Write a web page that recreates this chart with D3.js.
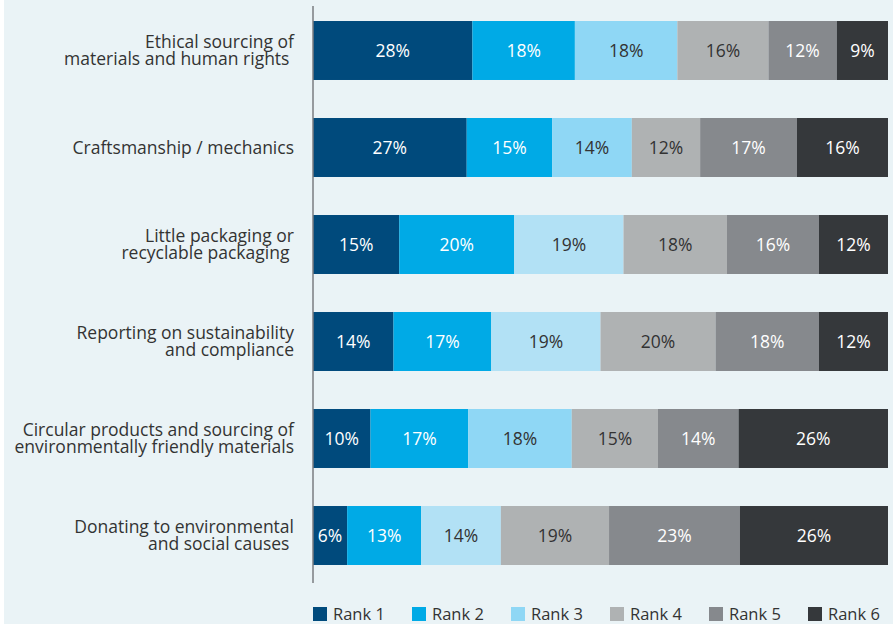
<!DOCTYPE html>
<html>
<head>
<meta charset="utf-8">
<script src="https://cdn.jsdelivr.net/npm/d3@7"></script>
<style>
  html, body { margin: 0; padding: 0; background: #ffffff; }
  svg { display: block; font-family: "Open Sans", "Noto Sans", sans-serif; }
</style>
</head>
<body>
<svg id="chart" width="893" height="624"></svg>
<script>
// Share of respondents ranking each factor 1st..6th
const categories = [
  ["Ethical sourcing of", "materials and human rights\u00a0"],
  ["Craftsmanship / mechanics"],
  ["Little packaging or", "recyclable packaging\u00a0"],
  ["Reporting on sustainability", "and compliance"],
  ["Circular products and sourcing of", "environmentally friendly materials"],
  ["Donating to environmental", "and social causes\u00a0"]
];
const ranks = ["Rank 1", "Rank 2", "Rank 3", "Rank 4", "Rank 5", "Rank 6"];
const rank1 = [28, 27, 15, 14, 10, 6];
const rank2 = [18, 15, 20, 17, 17, 13];
const rank3 = [18, 14, 19, 19, 18, 14];
const rank4 = [16, 12, 18, 20, 15, 19];
const rank5 = [12, 17, 16, 18, 14, 23];
const rank6 = [9, 16, 12, 12, 26, 26];

const colors = ["#004a7c", "#00aae6", "#8fd7f5", "#afb2b3", "#86898d", "#35383b"];
const rank3Pale = "#b2e1f5";
const paleRank3Rows = new Set([2, 3, 5]);
const labelColors = ["#ffffff", "#ffffff", "#333333", "#333333", "#ffffff", "#ffffff"];

const seriesValues = [rank1, rank2, rank3, rank4, rank5, rank6];
const rows = categories.map((c, i) => {
  const r = { key: i };
  ranks.forEach((k, j) => { r[k] = seriesValues[j][i]; });
  return r;
});

const W = 893, H = 624;
const svg = d3.select("#chart");

svg.append("rect").attr("x", 4).attr("y", 0).attr("width", W - 4).attr("height", H)
  .attr("fill", "#eaf3f6");

const x = d3.scaleLinear().domain([0, 1]).range([313, 888]);
const y = d3.scaleBand().domain(d3.range(categories.length))
  .range([2, 584]).paddingInner(0.392).paddingOuter(0.196);

const stacked = d3.stack().keys(ranks).offset(d3.stackOffsetExpand)(rows);

const layers = svg.append("g").selectAll("g").data(stacked).join("g");

layers.selectAll("rect").data(d => d.map(p => ({ p, s: d.index }))).join("rect")
  .attr("x", d => x(d.p[0]))
  .attr("y", d => y(d.p.data.key))
  .attr("width", d => x(d.p[1]) - x(d.p[0]))
  .attr("height", y.bandwidth())
  .attr("fill", d => (d.s === 2 && paleRank3Rows.has(d.p.data.key)) ? rank3Pale : colors[d.s]);

layers.selectAll("text").data(d => d.map(p => ({ p, s: d.index, key: d.key }))).join("text")
  .attr("x", d => (x(d.p[0]) + x(d.p[1])) / 2)
  .attr("y", d => y(d.p.data.key) + y.bandwidth() / 2)
  .attr("dy", "0.36em")
  .attr("text-anchor", "middle")
  .attr("font-size", 17.5)
  .attr("fill", d => labelColors[d.s])
  .text(d => d.p.data[d.key] + "%");

// vertical baseline
svg.append("line").attr("x1", 313).attr("x2", 313).attr("y1", 6).attr("y2", 583)
  .attr("stroke", "#7a7d80").attr("stroke-width", 1.5);

// category labels
const catG = svg.append("g");
categories.forEach((lines, i) => {
  const cy = y(i) + y.bandwidth() / 2;
  const lh = 17;
  const t = catG.append("text")
    .attr("text-anchor", "end")
    .attr("font-size", 17.5)
    .attr("fill", "#333333");
  lines.forEach((ln, k) => {
    t.append("tspan")
      .attr("x", 294)
      .attr("y", cy + (k - (lines.length - 1) / 2) * lh)
      .attr("dy", "0.35em")
      .text(ln);
  });
});

// legend
const leg = svg.append("g").selectAll("g").data(ranks).join("g")
  .attr("transform", (d, i) => `translate(${313 + i * 99},607)`);
leg.append("rect").attr("width", 14).attr("height", 14).attr("fill", (d, i) => colors[i]);
leg.append("text").attr("x", 20).attr("y", 7).attr("dy", "0.36em")
  .attr("font-size", 16.5).attr("fill", "#333333").text(d => d);
</script>
</body>
</html>
